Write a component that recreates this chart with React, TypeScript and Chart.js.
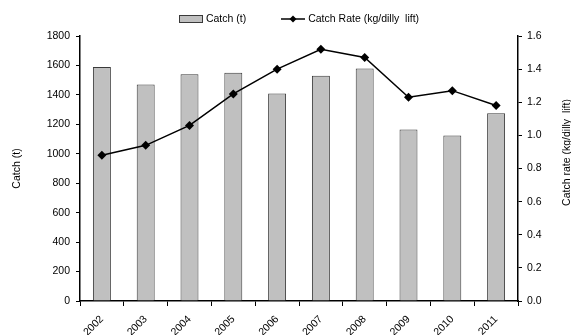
import React, { useEffect, useRef } from "react";
import { Chart, registerables } from "chart.js";

Chart.register(...registerables);

// Annual catch (tonnes) and catch rate (kg per dilly lift)
const years = ["2002", "2003", "2004", "2005", "2006", "2007", "2008", "2009", "2010", "2011"];
const catchTonnes = [1590, 1470, 1540, 1550, 1410, 1530, 1580, 1165, 1125, 1275];
const catchRate = [0.88, 0.94, 1.06, 1.25, 1.40, 1.52, 1.47, 1.23, 1.27, 1.18];

const leftTicksMax = 1800;
const leftStep = 200;
const rightTicksMax = 1.6;
const rightStep = 0.2;

const FONT = "'Liberation Sans', Arial, sans-serif";
const FONT_SIZE = 10.5;
const BAR_FILL = "#c0c0c0";
const BAR_EDGE = "#3a3a3a";

// Legend swatches, drawn as small canvases
function barSwatch(): HTMLCanvasElement {
  const c = document.createElement("canvas");
  c.width = 24;
  c.height = 8;
  const g = c.getContext("2d")!;
  g.fillStyle = BAR_FILL;
  g.fillRect(0.5, 0.5, 23, 7);
  g.strokeStyle = BAR_EDGE;
  g.lineWidth = 1;
  g.strokeRect(0.5, 0.5, 23, 7);
  return c;
}

function lineSwatch(): HTMLCanvasElement {
  const c = document.createElement("canvas");
  c.width = 24;
  c.height = 10;
  const g = c.getContext("2d")!;
  g.strokeStyle = "#000";
  g.lineWidth = 1.5;
  g.beginPath();
  g.moveTo(0, 5);
  g.lineTo(24, 5);
  g.stroke();
  g.fillStyle = "#000";
  g.beginPath();
  g.moveTo(12, 1.5);
  g.lineTo(15.5, 5);
  g.lineTo(12, 8.5);
  g.lineTo(8.5, 5);
  g.closePath();
  g.fill();
  return c;
}

const legendPlugin = {
  id: "catchLegend",
  afterDraw(chart: any) {
    const { ctx, chartArea } = chart;
    const swatches = [barSwatch(), lineSwatch()];
    const labels = chart.data.datasets.map((d: any) => d.label as string);
    ctx.save();
    ctx.font = `${FONT_SIZE}px ${FONT}`;
    ctx.fillStyle = "#000";
    ctx.textBaseline = "middle";
    ctx.textAlign = "left";
    const boxW = 23;
    const gap = 4;
    const itemGap = 35;
    const widths = labels.map((t: string) => boxW + gap + ctx.measureText(t).width);
    const total = widths.reduce((a: number, b: number) => a + b, 0) + itemGap * (labels.length - 1);
    let x = (chartArea.left + chartArea.right) / 2 - total / 2;
    const y = chartArea.top - 17;
    labels.forEach((t: string, i: number) => {
      const sw = swatches[i];
      ctx.drawImage(sw, Math.round(x), Math.round(y - sw.height / 2));
      ctx.fillText(t, x + boxW + gap, y);
      x += widths[i] + itemGap;
    });
    ctx.restore();
  },
};

const rightTitlePlugin = {
  id: "rightTitle",
  afterDraw(chart: any) {
    const { ctx, chartArea, width } = chart;
    ctx.save();
    ctx.font = `${FONT_SIZE}px ${FONT}`;
    ctx.fillStyle = "#000";
    ctx.textAlign = "center";
    ctx.textBaseline = "middle";
    ctx.translate(width - 4, (chartArea.top + chartArea.bottom) / 2 - 16);
    ctx.rotate(-Math.PI / 2);
    ctx.fillText("Catch rate (kg/dilly  lift)", 0, 0);
    ctx.restore();
  },
};

export default function App() {
  const ref = useRef<HTMLCanvasElement>(null);

  useEffect(() => {
    document.body.style.margin = "0";
    const canvas = ref.current;
    if (!canvas) return;
    Chart.defaults.font.family = FONT;
    Chart.defaults.font.size = FONT_SIZE;
    Chart.defaults.color = "#000";

    const chart = new Chart(canvas, {
      type: "bar",
      data: {
        labels: years,
        datasets: [
          {
            type: "bar",
            label: "Catch (t)",
            data: catchTonnes,
            yAxisID: "y",
            backgroundColor: BAR_FILL,
            borderColor: BAR_EDGE,
            borderWidth: 1,
            barPercentage: 0.41,
            categoryPercentage: 1,
            order: 2,
          },
          {
            type: "line",
            label: "Catch Rate (kg/dilly  lift)",
            data: catchRate,
            yAxisID: "y1",
            borderColor: "#000",
            backgroundColor: "#000",
            borderWidth: 1.5,
            tension: 0,
            pointStyle: "rectRot",
            pointRadius: 4.5,
            pointBorderWidth: 0,
            order: 1,
          },
        ],
      },
      options: {
        responsive: false,
        animation: false,
        devicePixelRatio: 1,
        layout: { padding: { top: 36, left: 0, right: 0, bottom: 0 } },
        plugins: {
          legend: { display: false },
          tooltip: { enabled: false },
        },
        scales: {
          x: {
            grid: {
              offset: true,
              drawOnChartArea: false,
              tickLength: 5,
              color: "#000",
            },
            border: { color: "#000", width: 1.5 },
            ticks: {
              autoSkip: false,
              maxRotation: 45,
              minRotation: 45,
              padding: 7,
            },
            afterFit(scale: any) {
              scale.height = 34;
            },
          },
          y: {
            position: "left",
            min: 0,
            max: leftTicksMax,
            ticks: {
              stepSize: leftStep,
              padding: 6,
              callback: (v: any) => String(v),
            },
            grid: { drawOnChartArea: false, tickLength: 4, color: "#000" },
            border: { color: "#000", width: 1.5 },
            title: {
              display: true,
              text: "Catch (t)",
              padding: { top: 11, bottom: 0 },
            },
            afterFit(scale: any) {
              scale.width = 80;
            },
          },
          y1: {
            position: "right",
            min: 0,
            max: rightTicksMax,
            ticks: {
              stepSize: rightStep,
              padding: 5,
              callback: (v: any) => Number(v).toFixed(1),
            },
            grid: { drawOnChartArea: false, tickLength: 4, color: "#000" },
            border: { color: "#000", width: 1.5 },
            afterFit(scale: any) {
              scale.width = 53;
            },
          },
        },
      },
      plugins: [legendPlugin, rightTitlePlugin],
    });

    return () => chart.destroy();
  }, []);

  return (
    <div style={{ width: 571, height: 335 }}>
      <canvas ref={ref} width={571} height={335} />
    </div>
  );
}
